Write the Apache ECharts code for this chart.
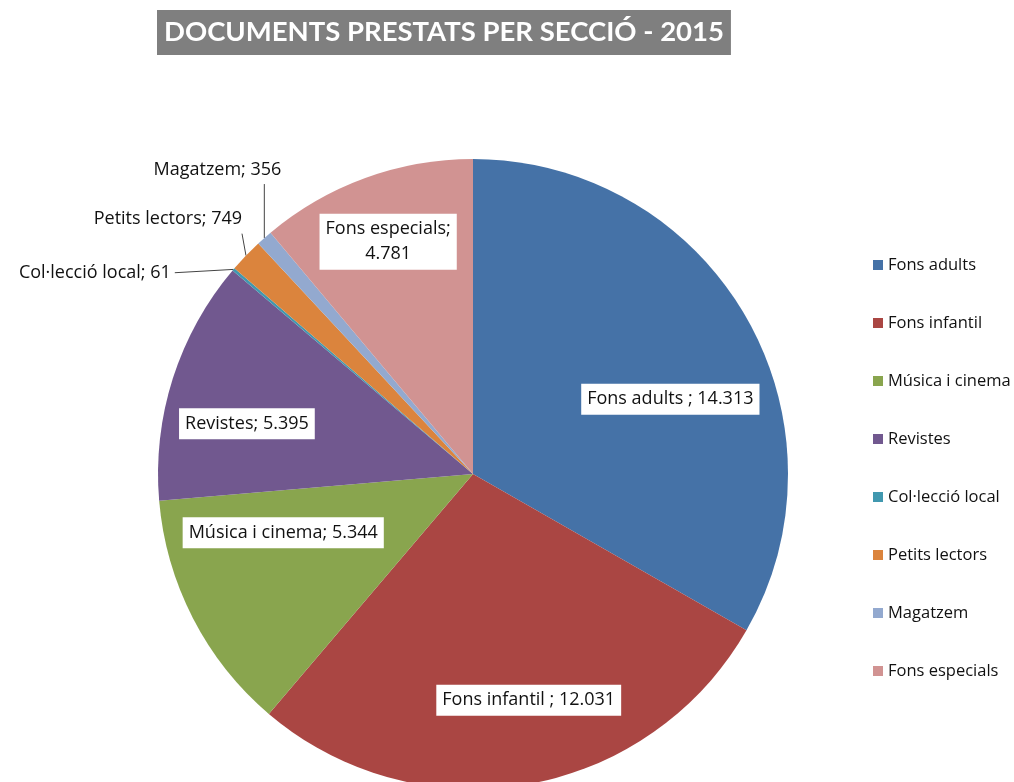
<!DOCTYPE html>
<html>
<head>
<meta charset="utf-8">
<script src="https://cdn.jsdelivr.net/npm/echarts@6/dist/echarts.min.js"></script>
<style>
  html, body { margin: 0; padding: 0; background: #fff; }
  #chart { width: 1014px; height: 782px; }
</style>
</head>
<body>
<div id="chart"></div>
<script>
var sections = ['Fons adults', 'Fons infantil', 'Música i cinema', 'Revistes', 'Col·lecció local', 'Petits lectors', 'Magatzem', 'Fons especials'];
var loans = [14313, 12031, 5344, 5395, 61, 749, 356, 4781];
var colors = ['#4572A7', '#AA4643', '#89A54E', '#71588F', '#4198AF', '#DB843D', '#93A9CF', '#D19392'];
// labels drawn outside the pie, with a leader line
var outside = ['Col·lecció local', 'Petits lectors', 'Magatzem'];

var font = '"Open Sans", sans-serif';
var cx = 473, cy = 474;

// nudges (px) so the labels sit where the original put them
var labelShift = {
    'Fons adults': [3, 38],
    'Fons infantil': [17, 5],
    'Música i cinema': [10, -44],
    'Revistes': [-12, 18],
    'Fons especials': [-8, -21],
    'Col·lecció local': [-38, 15],
    'Petits lectors': [20, -24],
    'Magatzem': [40, -55]
};

function fmt(v) {
    return String(v).replace(/\B(?=(\d{3})+(?!\d))/g, '.');
}

var data = sections.map(function (name, i) {
    var item = { name: name, value: loans[i], itemStyle: { color: colors[i] } };
    if (outside.indexOf(name) >= 0) {
        item.label = {
            position: 'outside',
            backgroundColor: 'transparent',
            padding: 0
        };
        item.labelLine = { show: true };
    }
    return item;
});

var myChart = echarts.init(document.getElementById('chart'));
var option = {
    animation: false,
    title: {
        text: 'DOCUMENTS PRESTATS PER SECCIÓ - 2015',
        left: 157,
        top: 10,
        backgroundColor: '#7f7f7f',
        padding: [6, 7, 6, 7],
        textStyle: {
            color: '#fff',
            fontFamily: 'Lato, sans-serif',
            fontWeight: 'bold',
            fontSize: 27.5,
            lineHeight: 33
        }
    },
    legend: {
        orient: 'vertical',
        left: 868,
        top: 250,
        itemWidth: 10,
        itemHeight: 10,
        itemGap: 38,
        icon: 'rect',
        data: sections,
        textStyle: { fontFamily: font, fontSize: 16.5, color: '#111', lineHeight: 20 }
    },
    series: [{
        type: 'pie',
        center: [cx, cy],
        radius: 315,
        startAngle: 90,
        clockwise: true,
        avoidLabelOverlap: false,
        itemStyle: { borderWidth: 0 },
        label: {
            show: true,
            position: 'inside',
            color: '#111',
            fontFamily: font,
            fontSize: 18,
            lineHeight: 25,
            backgroundColor: '#fff',
            padding: [3, 6, 3, 6],
            formatter: function (p) {
                var sep = (p.name === 'Fons adults' || p.name === 'Fons infantil') ? ' ; ' : '; ';
                if (p.name === 'Fons especials') {
                    return p.name + ';\n' + fmt(p.value);
                }
                return p.name + sep + fmt(p.value);
            }
        },
        labelLine: { show: false, length: 18, length2: 6, lineStyle: { color: '#444', width: 1 } },
        labelLayout: function (p) {
            var name = sections[p.dataIndex];
            var s = labelShift[name] || [0, 0];
            var r = p.labelRect;
            if (outside.indexOf(name) >= 0) {
                // redraw the leader line from the slice edge to the moved label
                var p0 = p.labelLinePoints[0];
                var x0 = r.x + s[0], y0 = r.y + s[1];
                var end;
                if (p0[1] > y0 + r.height + 6) {
                    end = [Math.min(Math.max(p0[0], x0), x0 + r.width), y0 + r.height + 2];
                } else {
                    end = [x0 + r.width + 4, y0 + r.height / 2];
                }
                return { dx: s[0], dy: s[1], labelLinePoints: [p0, end, end] };
            }
            var lx = r.x + r.width / 2;
            var ly = r.y + r.height / 2;
            return { dx: (lx - cx) * 0.4 + s[0], dy: (ly - cy) * 0.4 + s[1] };
        },
        data: data
    }]
};
myChart.setOption(option);
</script>
</body>
</html>
